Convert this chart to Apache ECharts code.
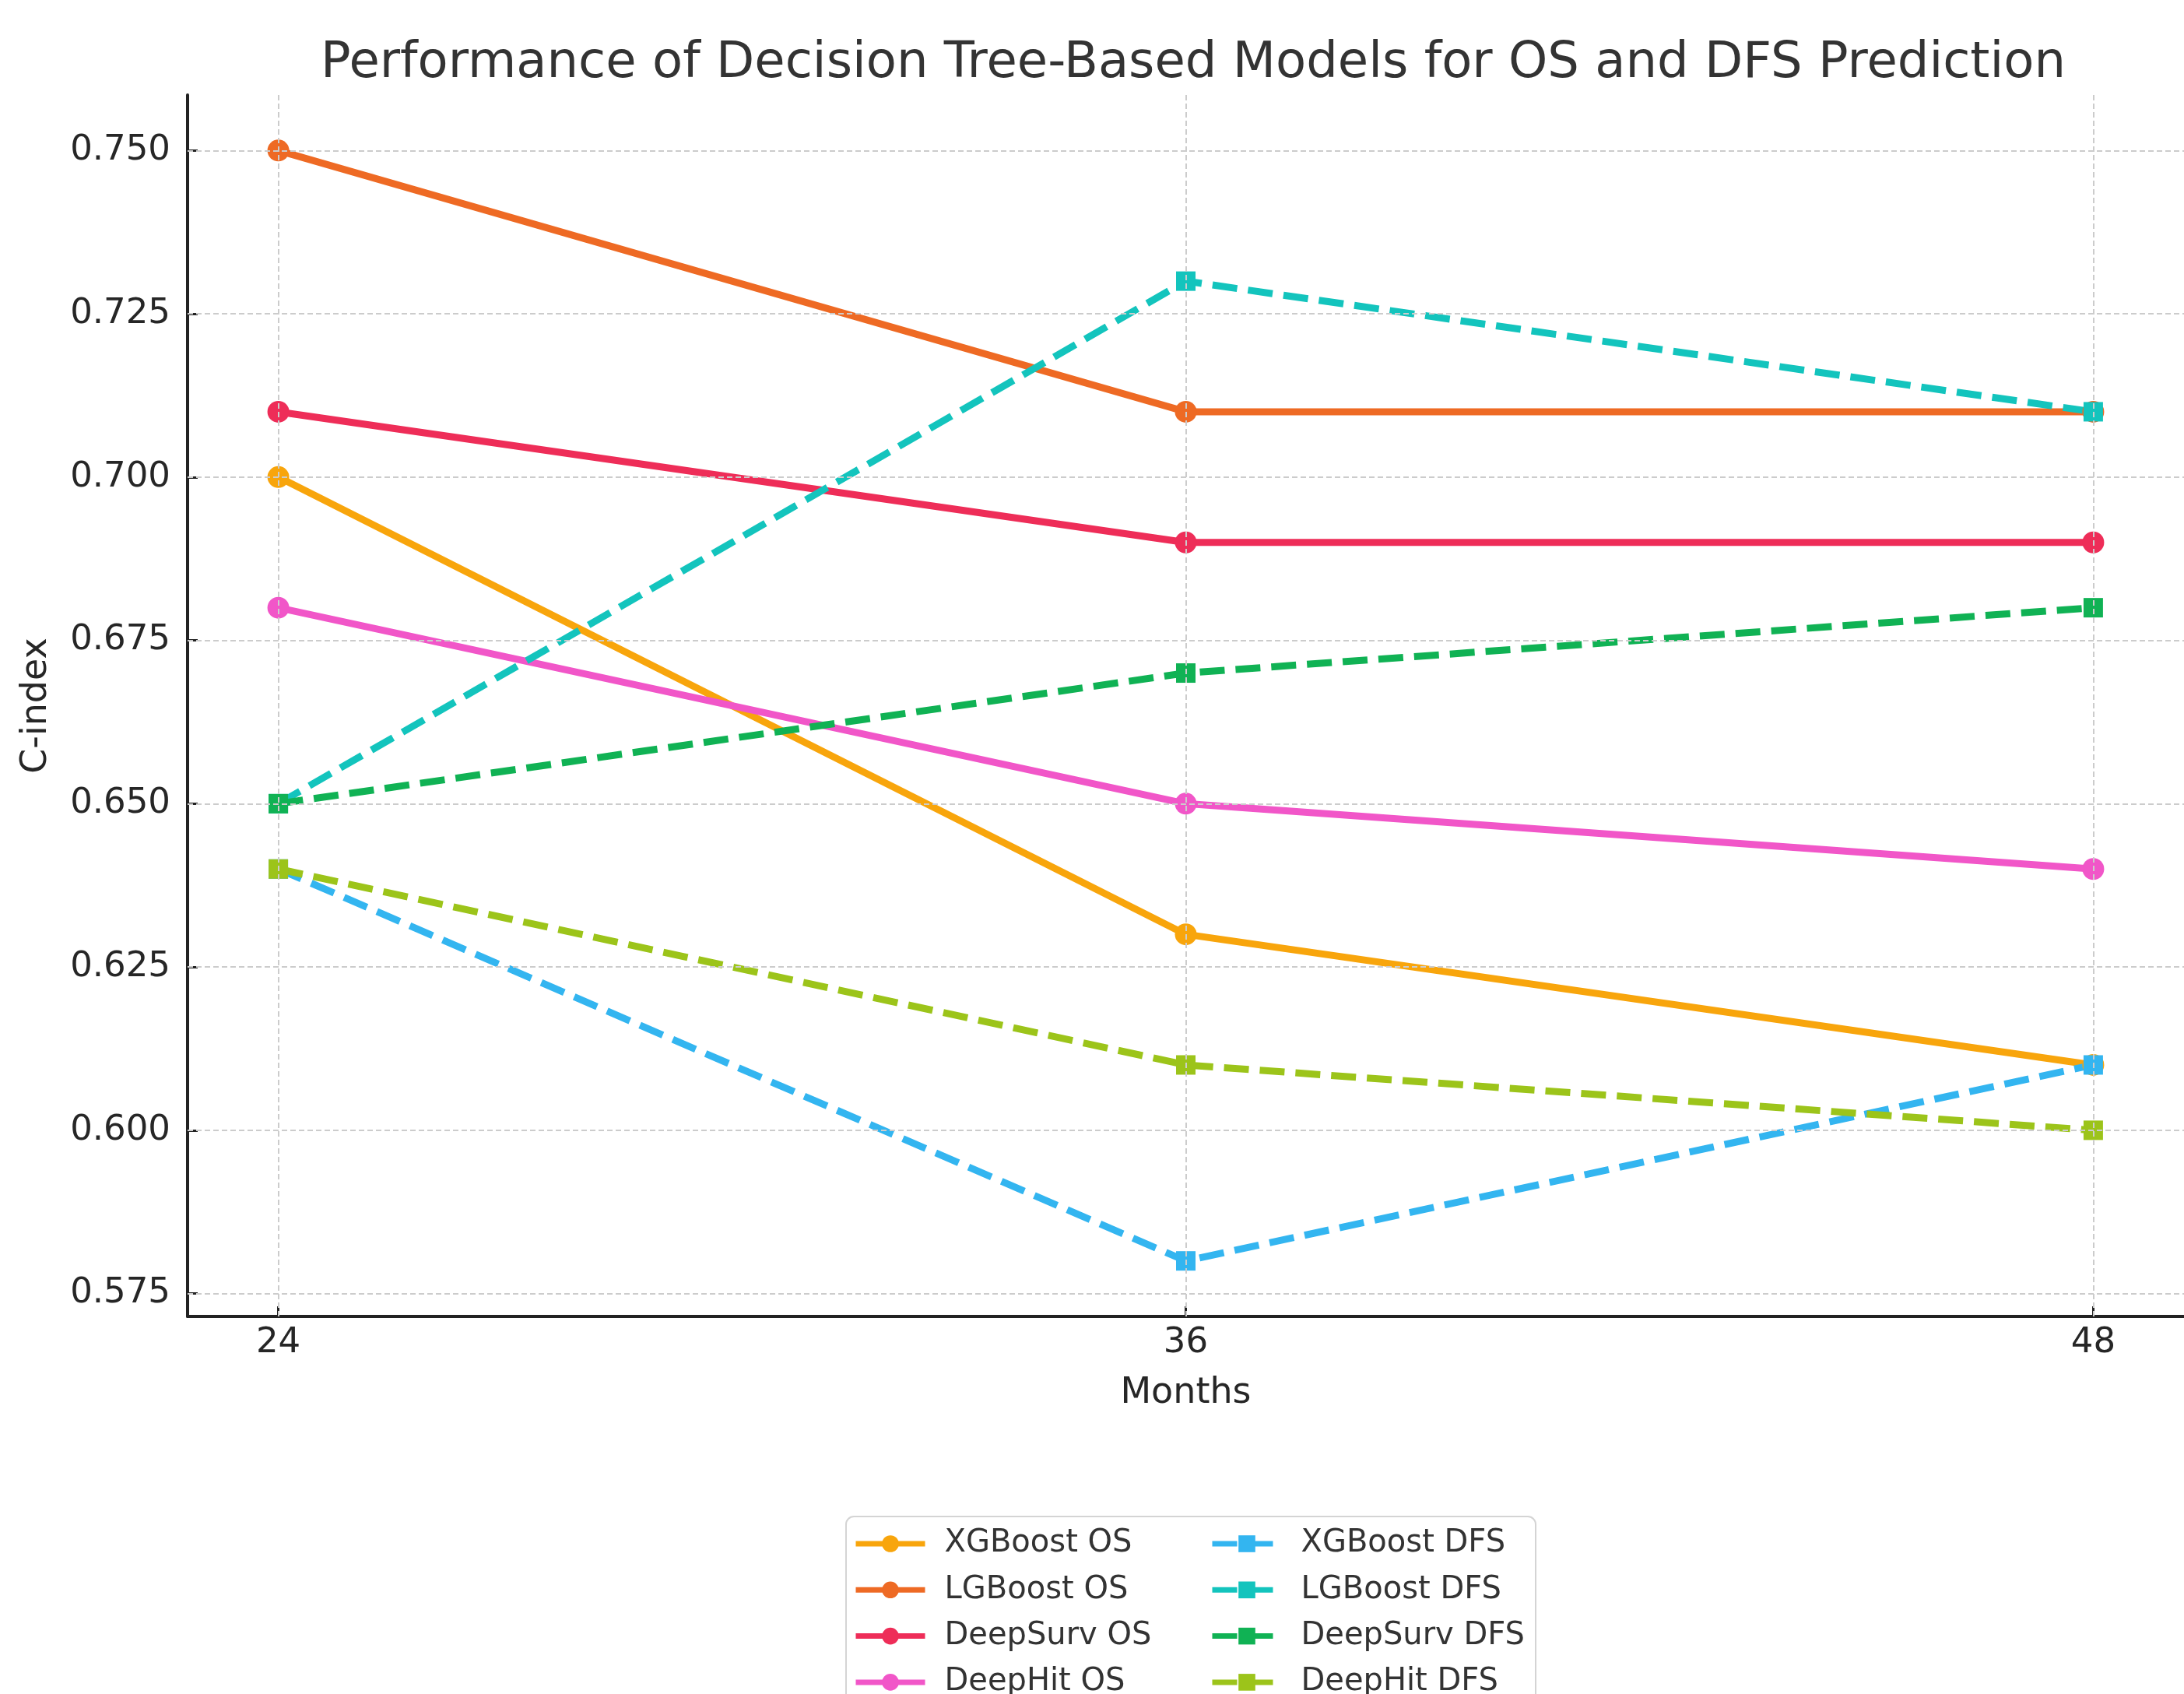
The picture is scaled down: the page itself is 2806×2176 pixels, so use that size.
<!DOCTYPE html>
<html>
<head>
<meta charset="utf-8">
<script src="https://cdn.jsdelivr.net/npm/echarts@6/dist/echarts.min.js"></script>
<style>
html, body { margin: 0; padding: 0; background: #fff; }
#chart { width: 2806px; height: 2176px; }
</style>
</head>
<body>
<div id="chart"></div>
<script>
// data
var months = [24, 36, 48];
var yTicks = [0.575, 0.600, 0.625, 0.650, 0.675, 0.700, 0.725, 0.750];

var xgboostOS = [0.70, 0.63, 0.61];
var lgboostOS = [0.75, 0.71, 0.71];
var deepsurvOS = [0.71, 0.69, 0.69];
var deephitOS = [0.68, 0.65, 0.64];
var xgboostDFS = [0.64, 0.58, 0.61];
var lgboostDFS = [0.65, 0.73, 0.71];
var deepsurvDFS = [0.65, 0.67, 0.68];
var deephitDFS = [0.64, 0.61, 0.60];

var osNames = ['XGBoost OS', 'LGBoost OS', 'DeepSurv OS', 'DeepHit OS'];
var dfsNames = ['XGBoost DFS', 'LGBoost DFS', 'DeepSurv DFS', 'DeepHit DFS'];
var osValues = [xgboostOS, lgboostOS, deepsurvOS, deephitOS];
var dfsValues = [xgboostDFS, lgboostDFS, deepsurvDFS, deephitDFS];
var osColors = ['#f8a50c', '#ee6a24', '#ee2d58', '#f156c8'];
var dfsColors = ['#33b5f0', '#13c4bd', '#10b254', '#9cc41a'];

var font = 'DejaVu Sans';

function pairs(vals) {
	var out = [];
	for (var i = 0; i < months.length; i++) {
		out.push([months[i], vals[i]]);
	}
	return out;
}

var series = [];
// grid lines drawn under everything
var gridLines = [];
for (var i = 0; i < months.length; i++) gridLines.push({ xAxis: months[i] });
for (var j = 0; j < yTicks.length; j++) gridLines.push({ yAxis: yTicks[j] });
series.push({
	name: 'grid',
	type: 'line',
	data: [],
	silent: true,
	z: 1,
	markLine: {
		silent: true,
		precision: 3,
		symbol: ['none', 'none'],
		label: { show: false },
		lineStyle: { type: [7, 4], color: '#cccccc', width: 2 },
		data: gridLines
	}
});

for (var a = 0; a < osNames.length; a++) {
	series.push({
		name: osNames[a],
		type: 'line',
		z: 2,
		data: pairs(osValues[a]),
		symbol: 'circle',
		symbolSize: 28,
		itemStyle: { color: osColors[a], borderWidth: 0 },
		lineStyle: { width: 9, color: osColors[a], type: 'solid' }
	});
}
for (var b = 0; b < dfsNames.length; b++) {
	series.push({
		name: dfsNames[b],
		type: 'line',
		z: 2,
		data: pairs(dfsValues[b]),
		symbol: 'rect',
		symbolSize: 25,
		itemStyle: { color: dfsColors[b], borderWidth: 0 },
		lineStyle: { width: 9, color: dfsColors[b], type: [32, 14] }
	});
}

var legendCommon = {
	orient: 'vertical',
	top: 1963,
	height: 320,
	padding: 0,
	itemWidth: 89,
	itemHeight: 27,
	itemGap: 19.3,
	lineStyle: { width: 7 },
	itemStyle: { borderWidth: 0 },
	textStyle: {
		fontFamily: font,
		fontSize: 40,
		lineHeight: 40,
		color: '#333',
		padding: [0, 0, 0, 20]
	}
};

var mycharts = echarts.init(document.getElementById('chart'));
var option = {
	animation: false,
	backgroundColor: '#fff',
	title: {
		text: 'Performance of Decision Tree-Based Models for OS and DFS Prediction',
		left: 1528,
		top: 45,
		textAlign: 'center',
		textStyle: {
			fontFamily: font,
			fontSize: 64,
			fontWeight: 'normal',
			color: '#333'
		}
	},
	legend: [
		echarts.util.extend({ left: 1096, data: osNames }, legendCommon),
		echarts.util.extend({ left: 1554, data: dfsNames }, legendCommon)
	],
	graphic: [{
		type: 'rect',
		left: 1086,
		top: 1947,
		shape: { width: 886, height: 280, r: 10 },
		style: { fill: 'rgba(255,255,255,0.8)', stroke: '#d4d4d4', lineWidth: 2 },
		z: -1
	}],
	grid: {
		left: 241,
		top: 122,
		width: 2575,
		height: 1569
	},
	xAxis: {
		type: 'value',
		min: 22.8,
		max: 49.2,
		name: 'Months',
		nameLocation: 'middle',
		nameGap: 76,
		nameTextStyle: { fontFamily: font, fontSize: 46, color: '#262626' },
		axisLine: { show: true, lineStyle: { color: '#222', width: 4 } },
		axisTick: { show: true, inside: true, length: 13, customValues: months, lineStyle: { color: '#222', width: 3 } },
		axisLabel: { customValues: months, margin: 12, fontFamily: font, fontSize: 45, color: '#262626' },
		splitLine: { show: false }
	},
	yAxis: {
		type: 'value',
		min: 0.5715,
		max: 0.7585,
		name: 'C-index',
		nameLocation: 'middle',
		nameGap: 171,
		nameTextStyle: { fontFamily: font, fontSize: 46, color: '#262626' },
		axisLine: { show: true, lineStyle: { color: '#222', width: 4 } },
		axisTick: { show: true, inside: true, length: 13, customValues: yTicks, lineStyle: { color: '#222', width: 3 } },
		axisLabel: {
			customValues: yTicks,
			margin: 22,
			fontFamily: font,
			fontSize: 45,
			color: '#262626',
			formatter: function (v) { return v.toFixed(3); }
		},
		splitLine: { show: false }
	},
	series: series
};
mycharts.setOption(option);
</script>
</body>
</html>
